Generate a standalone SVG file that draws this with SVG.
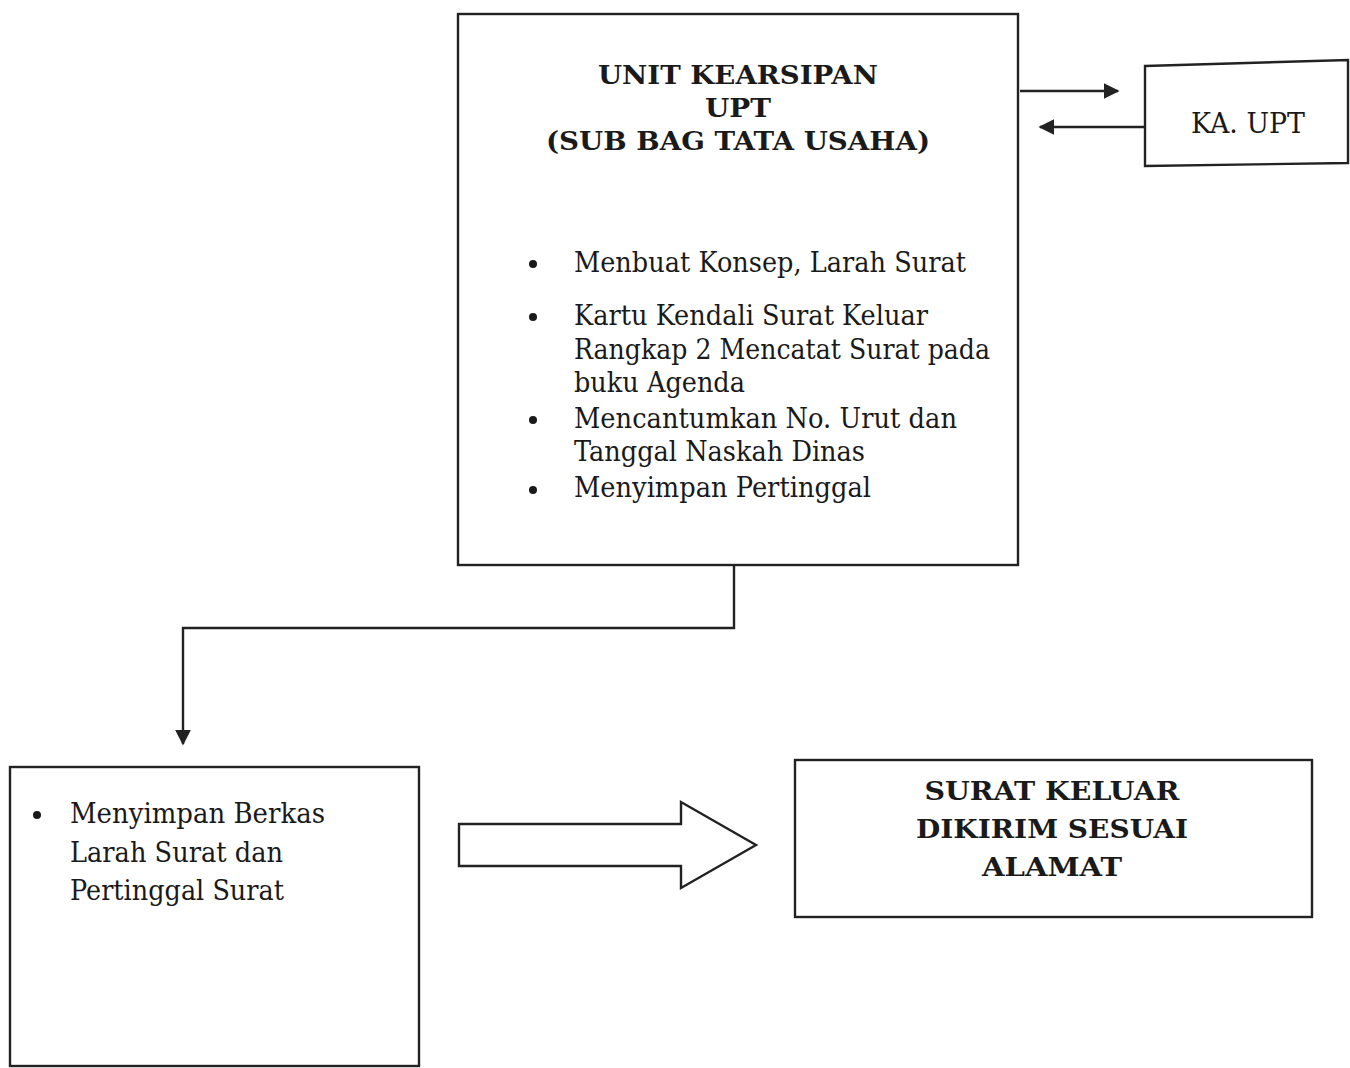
<svg xmlns="http://www.w3.org/2000/svg" width="1350" height="1068" viewBox="0 0 1350 1068">
<style>
.box{fill:#fff;stroke:#222;stroke-width:2.4}
.ln{fill:none;stroke:#222;stroke-width:2.4}
.t{font-family:"DejaVu Serif","Liberation Serif",serif;font-size:27px;fill:#1a1a1a}
.b{font-family:"DejaVu Serif","Liberation Serif",serif;font-size:26px;font-weight:bold;fill:#1a1a1a}
.c{text-anchor:middle}
</style>
<defs>
<marker id="ah2" viewBox="0 0 10 10" refX="9" refY="5" markerWidth="16" markerHeight="16" orient="auto" markerUnits="userSpaceOnUse">
<path d="M0,0 L10,5 L0,10 z" fill="#222"/>
</marker>
</defs>
<rect width="1350" height="1068" fill="#fff"/>
<g id="connectors">
<line class="ln" x1="1020" y1="91" x2="1118" y2="91" marker-end="url(#ah2)"/>
<line class="ln" x1="1145" y1="127" x2="1040" y2="127" marker-end="url(#ah2)"/>
<polyline class="ln" points="734,566 734,628 183,628 183,744" marker-end="url(#ah2)"/>
<path class="box" d="M459,824 L681,824 L681,802 L756,845 L681,888 L681,866 L459,866 Z"/>
</g>
<g id="node-unit">
<rect class="box" x="458" y="14" width="560" height="551"/>
<text class="b c" x="738" y="84" textLength="280" lengthAdjust="spacingAndGlyphs">UNIT KEARSIPAN</text>
<text class="b c" x="738" y="117" textLength="66" lengthAdjust="spacingAndGlyphs">UPT</text>
<text class="b c" x="738" y="150" textLength="384" lengthAdjust="spacingAndGlyphs">(SUB BAG TATA USAHA)</text>
<circle cx="533" cy="264" r="4" fill="#1a1a1a"/>
<circle cx="533" cy="317" r="4" fill="#1a1a1a"/>
<circle cx="533" cy="420" r="4" fill="#1a1a1a"/>
<circle cx="533" cy="490" r="4" fill="#1a1a1a"/>
<text class="t" x="574" y="272" textLength="392" lengthAdjust="spacingAndGlyphs">Menbuat Konsep, Larah Surat</text>
<text class="t" x="574" y="325" textLength="354" lengthAdjust="spacingAndGlyphs">Kartu Kendali Surat Keluar</text>
<text class="t" x="574" y="359" textLength="416" lengthAdjust="spacingAndGlyphs">Rangkap 2 Mencatat Surat pada</text>
<text class="t" x="574" y="392" textLength="171" lengthAdjust="spacingAndGlyphs">buku Agenda</text>
<text class="t" x="574" y="428" textLength="383" lengthAdjust="spacingAndGlyphs">Mencantumkan No. Urut dan</text>
<text class="t" x="574" y="461" textLength="291" lengthAdjust="spacingAndGlyphs">Tanggal Naskah Dinas</text>
<text class="t" x="574" y="497" textLength="297" lengthAdjust="spacingAndGlyphs">Menyimpan Pertinggal</text>
</g>
<g id="node-ka-upt">
<path class="box" d="M1145,66 L1348,60 L1348,163 L1145,166 Z"/>
<text class="t c" x="1248" y="133" font-size="26" textLength="114" lengthAdjust="spacingAndGlyphs">KA. UPT</text>
</g>
<g id="node-simpan">
<rect class="box" x="10" y="767" width="409" height="299"/>
<circle cx="37" cy="815" r="4" fill="#1a1a1a"/>
<text class="t" x="70" y="823" font-size="29" textLength="255" lengthAdjust="spacingAndGlyphs">Menyimpan Berkas</text>
<text class="t" x="70" y="862" font-size="29" textLength="213" lengthAdjust="spacingAndGlyphs">Larah Surat dan</text>
<text class="t" x="70" y="900" font-size="29" textLength="214" lengthAdjust="spacingAndGlyphs">Pertinggal Surat</text>
</g>
<g id="node-surat-keluar">
<rect class="box" x="795" y="760" width="517" height="157"/>
<text class="b c" x="1052" y="800" textLength="255" lengthAdjust="spacingAndGlyphs">SURAT KELUAR</text>
<text class="b c" x="1052" y="838" textLength="272" lengthAdjust="spacingAndGlyphs">DIKIRIM SESUAI</text>
<text class="b c" x="1052" y="876" textLength="140" lengthAdjust="spacingAndGlyphs">ALAMAT</text>
</g>
</svg>
